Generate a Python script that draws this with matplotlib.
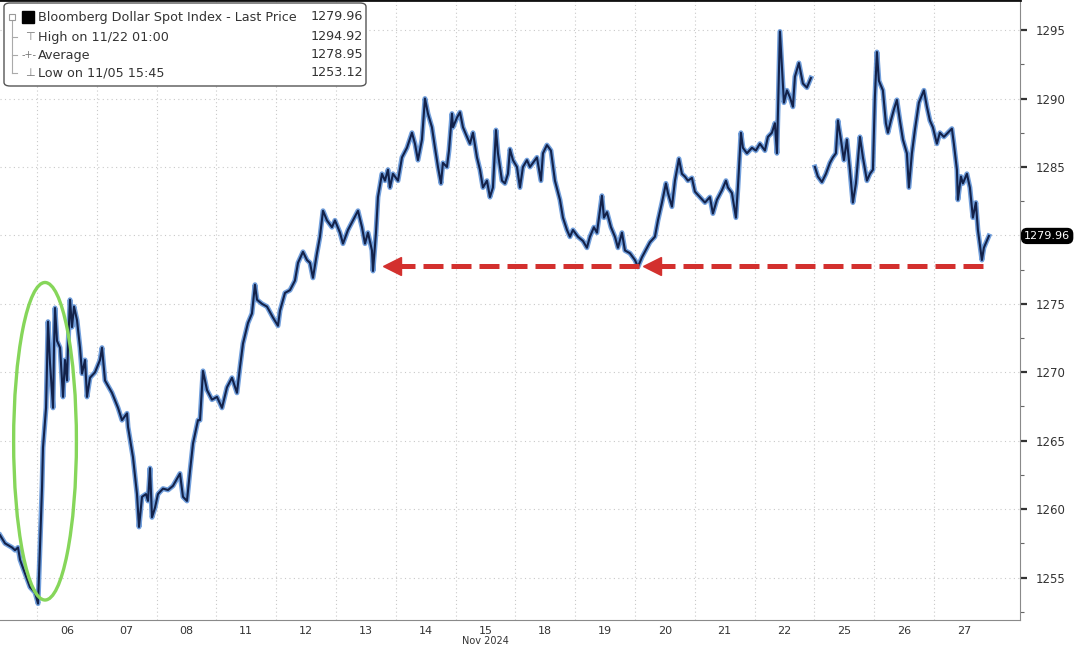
import numpy as np
import matplotlib
matplotlib.use("Agg")
import matplotlib.pyplot as plt
import matplotlib.transforms as mtransforms
from matplotlib.patches import Ellipse, FancyBboxPatch

# x = trading days counted from the start of the 06 session, y = index level
days = ["06", "07", "08", "11", "12", "13", "14", "15", "18", "19", "20", "21", "22", "25", "26", "27"]

t1 = [-0.619, -0.535, -0.418, -0.368, -0.318, -0.284, -0.201, -0.117, -0.033, 0.017, 0.050, 0.084, 0.100,
      0.151, 0.167, 0.184, 0.217, 0.268, 0.284, 0.301, 0.334, 0.385, 0.435, 0.468, 0.502, 0.518, 0.552,
      0.585, 0.619, 0.669, 0.719, 0.753, 0.803, 0.836, 0.886, 0.970, 1.054, 1.087, 1.137, 1.254, 1.355,
      1.421, 1.505, 1.522, 1.605, 1.672, 1.706, 1.756, 1.823, 1.856, 1.890, 1.923, 1.973, 2.023, 2.107,
      2.191, 2.274, 2.391, 2.441, 2.508, 2.559, 2.609, 2.692, 2.726, 2.776, 2.843, 2.926, 3.010, 3.094,
      3.177, 3.261, 3.344, 3.395, 3.445, 3.528, 3.595, 3.645, 3.679, 3.763, 3.846, 3.946, 4.030, 4.064,
      4.147, 4.231, 4.314, 4.365, 4.448, 4.515, 4.565, 4.615, 4.682, 4.732, 4.783, 4.849, 4.933, 4.983,
      5.067, 5.117, 5.201, 5.284, 5.368, 5.435, 5.485, 5.535, 5.602, 5.619, 5.669, 5.702, 5.769, 5.819,
      5.870, 5.903, 5.953, 6.037, 6.104, 6.187, 6.271, 6.321, 6.371, 6.438, 6.488, 6.538, 6.605, 6.656,
      6.706, 6.756, 6.789, 6.856, 6.890, 6.940, 6.957, 7.023, 7.074, 7.124, 7.191, 7.241, 7.291, 7.358,
      7.408, 7.458, 7.525, 7.575, 7.625, 7.676, 7.709, 7.776, 7.826, 7.876, 7.910, 7.960, 8.027, 8.077,
      8.127, 8.194, 8.244, 8.294, 8.361, 8.428, 8.462, 8.528, 8.595, 8.662, 8.746, 8.796, 8.863, 8.913,
      8.963, 9.047, 9.130, 9.197, 9.247, 9.314, 9.365, 9.448, 9.482, 9.532, 9.599, 9.666, 9.716, 9.783,
      9.833, 9.916, 10.000, 10.050, 10.117, 10.201, 10.251, 10.334, 10.385, 10.452, 10.518, 10.552,
      10.619, 10.669, 10.736, 10.786, 10.836, 10.886, 10.953, 11.003, 11.087, 11.171, 11.254, 11.304,
      11.371, 11.455, 11.522, 11.555, 11.622, 11.689, 11.722, 11.773, 11.806, 11.873, 11.957, 12.023,
      12.090, 12.174, 12.224, 12.291, 12.341, 12.375, 12.408, 12.425, 12.458, 12.492, 12.542, 12.592,
      12.642, 12.676, 12.742, 12.809, 12.876, 12.943]
v1 = [1258.1, 1257.5, 1257.2, 1257.0, 1257.2, 1256.3, 1255.3, 1254.3, 1253.9, 1253.1, 1257.2, 1261.6, 1264.5,
      1267.4, 1270.4, 1273.7, 1270.7, 1267.4, 1271.8, 1274.7, 1272.3, 1271.8, 1268.2, 1270.9, 1269.4, 1271.8,
      1275.3, 1273.3, 1274.8, 1273.8, 1271.8, 1269.9, 1270.9, 1268.2, 1269.6, 1270.0, 1270.9, 1271.8, 1269.4,
      1268.5, 1267.4, 1266.5, 1267.0, 1266.0, 1263.8, 1261.1, 1258.7, 1260.9, 1261.1, 1260.6, 1263.0, 1259.4,
      1260.1, 1261.1, 1261.5, 1261.4, 1261.7, 1262.6, 1260.9, 1260.6, 1262.8, 1264.8, 1266.5, 1266.5, 1270.1,
      1268.7, 1268.0, 1268.2, 1267.4, 1268.9, 1269.6, 1268.5, 1270.4, 1272.1, 1273.6, 1274.3, 1276.4, 1275.3,
      1275.0, 1274.8, 1274.0, 1273.4, 1274.5, 1275.8, 1276.0, 1276.7, 1278.0, 1278.8, 1278.2, 1278.0, 1276.9,
      1278.7, 1279.9, 1281.8, 1281.1, 1280.6, 1281.1, 1280.2, 1279.4, 1280.4, 1281.1, 1281.8, 1280.6, 1279.4,
      1280.2, 1278.9, 1277.4, 1280.2, 1282.8, 1284.5, 1284.0, 1284.8, 1283.5, 1284.5, 1284.0, 1285.7, 1286.4,
      1287.5, 1286.7, 1285.5, 1287.0, 1290.0, 1288.9, 1287.9, 1286.4, 1285.0, 1283.8, 1285.3, 1285.0, 1286.2,
      1288.9, 1287.9, 1288.6, 1289.0, 1287.9, 1287.2, 1286.7, 1287.5, 1285.7, 1284.8, 1283.5, 1284.0, 1282.8,
      1283.5, 1287.7, 1286.0, 1284.0, 1283.8, 1284.5, 1286.3, 1285.5, 1285.0, 1283.5, 1285.0, 1285.5, 1285.0,
      1285.3, 1285.7, 1284.0, 1286.0, 1286.6, 1286.2, 1284.0, 1282.6, 1281.3, 1280.4, 1279.9, 1280.4, 1279.9,
      1279.6, 1279.1, 1279.9, 1280.6, 1280.2, 1282.9, 1281.3, 1281.7, 1280.6, 1279.9, 1279.1, 1280.2, 1278.9,
      1278.7, 1278.2, 1277.7, 1278.4, 1279.1, 1279.5, 1279.9, 1281.1, 1282.4, 1283.8, 1283.1, 1282.1, 1284.0,
      1285.6, 1284.5, 1284.3, 1284.0, 1284.2, 1283.2, 1282.8, 1282.4, 1282.8, 1281.6, 1282.6, 1283.3, 1284.0,
      1283.5, 1283.1, 1281.3, 1283.5, 1287.5, 1286.4, 1286.0, 1286.4, 1286.2, 1286.7, 1286.2, 1287.2, 1287.5,
      1288.2, 1286.0, 1291.8, 1294.9, 1292.3, 1289.7, 1290.6, 1290.1, 1289.4, 1291.6, 1292.6, 1291.1, 1290.8,
      1291.5]

# after the weekend gap
t2 = [13.010, 13.060, 13.127, 13.194, 13.261, 13.311, 13.361, 13.395, 13.445, 13.495, 13.545, 13.595, 13.645,
      13.696, 13.763, 13.813, 13.880, 13.930, 13.980, 14.013, 14.047, 14.080, 14.147, 14.197, 14.231, 14.281,
      14.331, 14.381, 14.431, 14.482, 14.548, 14.582, 14.632, 14.682, 14.749, 14.833, 14.883, 14.933, 14.983,
      15.050, 15.100, 15.167, 15.234, 15.301, 15.334, 15.385, 15.401, 15.452, 15.485, 15.552, 15.602, 15.652,
      15.702, 15.736, 15.803, 15.836, 15.886, 15.920]
v2 = [1285.0, 1284.3, 1283.9, 1284.5, 1285.3, 1285.7, 1286.0, 1288.4, 1287.0, 1285.5, 1287.0, 1284.8, 1282.4,
      1283.8, 1287.2, 1285.7, 1284.0, 1284.5, 1284.8, 1290.1, 1293.4, 1291.3, 1290.6, 1288.2, 1287.5, 1288.4,
      1289.2, 1289.9, 1288.4, 1287.0, 1286.0, 1283.5, 1286.0, 1287.7, 1289.7, 1290.6, 1289.4, 1288.4, 1287.9,
      1286.7, 1287.5, 1287.2, 1287.5, 1287.8, 1286.7, 1284.8, 1282.6, 1284.3, 1283.8, 1284.5, 1283.5, 1281.3,
      1282.4, 1280.4, 1278.2, 1279.1, 1279.6, 1279.96]

legend_names = ["Bloomberg Dollar Spot Index - Last Price", "High on 11/22 01:00", "Average", "Low on 11/05 15:45"]
legend_values = [1279.96, 1294.92, 1278.95, 1253.12]
last_price = 1279.96
support_level = 1277.8

t = np.array(t1 + [np.nan] + t2)
v = np.array(v1 + [np.nan] + v2)

fig = plt.figure(figsize=(10.8, 6.47), dpi=100)
ax = fig.add_axes([0, 27 / 647, 1020 / 1080, 620 / 647])

ax.plot(t, v, color="#5a8fd6", lw=3.6, alpha=0.85, solid_joinstyle="round", zorder=3)
ax.plot(t, v, color="#13224a", lw=1.5, solid_joinstyle="round", zorder=4)

ax.set_xlim(-0.619, 16.44)
ax.set_ylim(1251.9, 1297.2)

# grid
for k in range(0, 16):
    ax.axvline(k, color="#c9c9c9", lw=0.8, ls=(0, (1, 2.5)), zorder=1)
for y in range(1255, 1296, 5):
    ax.axhline(y, color="#c9c9c9", lw=0.8, ls=(0, (1, 3)), zorder=1)

ax.set_xticks(np.arange(len(days)) + 0.5)
ax.set_xticklabels(days)
ax.tick_params(axis="x", length=0, pad=4, labelsize=8, labelcolor="#333333")

ax.yaxis.tick_right()
yticks = list(range(1255, 1296, 5))
ax.set_yticks(yticks)
# the 1280 label sits under the last-price tag
ax.set_yticklabels(["" if y == 1280 else str(y) for y in yticks])
ax.set_yticks(np.arange(1252.5, 1297, 5), minor=True)
ax.tick_params(axis="y", which="major", direction="out", length=5, width=1.6, color="#333333",
               labelsize=8.5, labelcolor="#333333", pad=6)
ax.tick_params(axis="y", which="minor", direction="out", length=3, width=0.8, color="#666666")

ax.spines["left"].set_visible(False)
ax.spines["right"].set_color("#8a8a8a")
ax.spines["bottom"].set_color("#8a8a8a")
ax.spines["top"].set_color("#111111")
ax.spines["top"].set_linewidth(2)

fig.text(485 / 1080, 1 / 647, "Nov 2024", ha="center", va="bottom", fontsize=7, color="#333333")

# last price tag
trans = mtransforms.blended_transform_factory(ax.transAxes, ax.transData)
ax.text(1.004, last_price, f"{last_price:.2f}", transform=trans, ha="left", va="center", fontsize=8,
        color="white", clip_on=False, zorder=10,
        bbox=dict(boxstyle="round,pad=0.22,rounding_size=0.5", fc="black", ec="black"))

# green ellipse around the election spike
ax.add_patch(Ellipse((0.134, 1264.96), 1.05, 23.2, fill=False, ec="#86d65a", lw=2.4, zorder=6))

# red dashed arrows at the support level
red = "#d3302e"
ax.plot([5.99, 10.08], [support_level] * 2, color=red, lw=3.6, dashes=(4, 1.6), zorder=5,
        dash_capstyle="butt")
ax.plot([10.33, 15.85], [support_level] * 2, color=red, lw=3.6, dashes=(4, 1.6), zorder=5,
        dash_capstyle="butt")
ax.plot([5.786 + 0.15], [support_level], marker="<", ms=13, color=red, mec=red, zorder=5)
ax.plot([10.134 + 0.15], [support_level], marker="<", ms=13, color=red, mec=red, zorder=5)


# legend box, placed in axes pixels
def fx(px):
    return px / 1020


def fy(py):
    return 1 - py / 620


ax.add_patch(FancyBboxPatch((fx(4), fy(86)), fx(362), 83 / 620, transform=ax.transAxes,
                            boxstyle="round,pad=0,rounding_size=0.006", fc="white", ec="#555555",
                            lw=1.0, zorder=8))
rows = [17, 37, 55, 73]
ax.plot([fx(12), fx(12)], [fy(20), fy(73)], transform=ax.transAxes, color="#aaaaaa", lw=0.8, zorder=9)
ax.plot([fx(12)], [fy(17)], transform=ax.transAxes, marker="s", ms=4, mfc="white", mec="#999999",
        mew=0.8, zorder=9)
for r in rows[1:]:
    ax.plot([fx(12), fx(17)], [fy(r), fy(r)], transform=ax.transAxes, color="#aaaaaa", lw=0.8, zorder=9)
ax.plot([fx(28)], [fy(17)], transform=ax.transAxes, marker="s", ms=8, color="black", zorder=9)
ax.text(fx(30), fy(37), "\u22a4", transform=ax.transAxes, ha="center", va="center", fontsize=8,
        color="#777777", zorder=9)
ax.text(fx(29), fy(55), "-+-", transform=ax.transAxes, ha="center", va="center", fontsize=7,
        color="#777777", zorder=9)
ax.text(fx(30), fy(73), "\u22a5", transform=ax.transAxes, ha="center", va="center", fontsize=8,
        color="#777777", zorder=9)
for r, name, val in zip(rows, legend_names, legend_values):
    ax.text(fx(38), fy(r), name, transform=ax.transAxes, ha="left", va="center", fontsize=9.2,
            color="#333333", zorder=9)
    ax.text(fx(363), fy(r), f"{val:.2f}", transform=ax.transAxes, ha="right", va="center", fontsize=9.2,
            color="#333333", zorder=9)

fig.savefig("out.png", dpi=100)
